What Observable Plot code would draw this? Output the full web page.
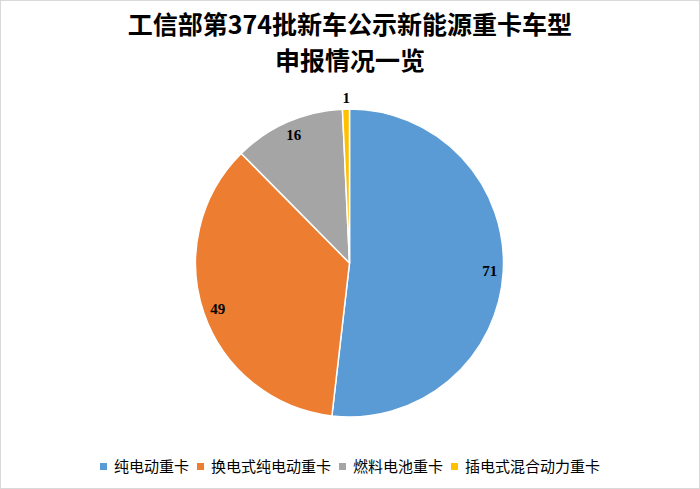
<!DOCTYPE html>
<html><head><meta charset="utf-8">
<script src="https://cdn.jsdelivr.net/npm/d3@7"></script>
<script src="https://cdn.jsdelivr.net/npm/@observablehq/plot@0.6"></script>
<style>
body{margin:0;background:#fff;}
#wrap{position:relative;width:700px;height:489px;overflow:hidden;font-family:"Noto Sans CJK SC",sans-serif;background:#fff;}
#frame{position:absolute;left:0;top:0;width:700px;height:489px;box-sizing:border-box;border:1px solid #d9d9d9;pointer-events:none;}
#title{height:80px;box-sizing:border-box;padding-top:5px;text-align:center;font-size:25px;line-height:36px;font-weight:bold;color:#000;}
#chart svg{display:block;}
#legend{height:49px;display:flex;justify-content:center;align-items:flex-start;padding-top:18px;box-sizing:border-box;font-size:15px;line-height:16px;color:#000;}
.item{display:flex;align-items:center;margin:0 4px;}
.sw{width:7px;height:7px;margin-right:7px;display:inline-block;}
</style>
</head><body>
<div id="wrap">
  <div id="title">工信部第374批新车公示新能源重卡车型<br>申报情况一览</div>
  <div id="chart"></div>
  <div id="legend"></div>
  <div id="frame"></div>
</div>
<script>
const categories = ["纯电动重卡", "换电式纯电动重卡", "燃料电池重卡", "插电式混合动力重卡"];
const values = [71, 49, 16, 1];
const colors = ["#5B9BD5", "#ED7D31", "#A5A5A5", "#FFC000"];

const data = categories.map((c, i) => ({category: c, value: values[i]}));
const total = d3.sum(values);

const W = 700, H = 360, CX = 349.5, CY = 183, R = 154;
const color = d3.scaleOrdinal(categories, colors);
const arcs = d3.pie().sort(null).value(d => d.value)(data);

const labels = arcs.map(a => {
  const m = (a.startAngle + a.endAngle) / 2;
  const r = a.data.value / total < 0.02 ? R + 11 : R - 14;
  return {x: CX + r * Math.sin(m), y: CY - r * Math.cos(m), text: String(a.data.value)};
});

function arcsMark(index, scales) {
  const cx = scales.x(CX), cy = scales.y(CY);
  const rr = scales.x(R) - scales.x(0);
  const arc = d3.arc().innerRadius(0).outerRadius(rr);
  const g = d3.create("svg:g");
  g.selectAll("path").data(arcs).join("path")
    .attr("transform", `translate(${cx},${cy})`)
    .attr("d", arc)
    .attr("fill", d => color(d.data.category))
    .attr("stroke", "#fff")
    .attr("stroke-width", 1.5)
    .attr("stroke-linejoin", "round");
  return g.node();
}

const plot = Plot.plot({
  width: W, height: H, margin: 0,
  x: {domain: [0, W], range: [0, W], axis: null},
  y: {domain: [0, H], range: [0, H], axis: null},
  marks: [
    arcsMark,
    Plot.text(labels, {x: "x", y: "y", text: "text", fill: "#000",
      fontFamily: "Liberation Serif", fontSize: 15, fontWeight: "bold"})
  ]
});
document.getElementById("chart").appendChild(plot);

const legend = d3.select("#legend");
categories.forEach((c, i) => {
  const it = legend.append("div").attr("class", "item");
  it.append("span").attr("class", "sw").style("background", color(c));
  it.append("span").text(c);
});
</script>
</body></html>
